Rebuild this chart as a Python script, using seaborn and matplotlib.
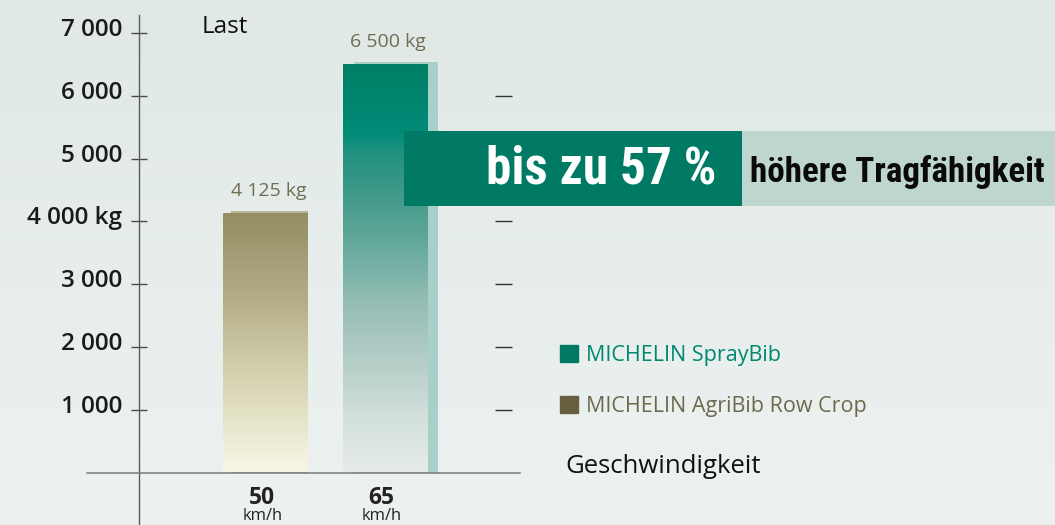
import numpy as np
import pandas as pd
import matplotlib.pyplot as plt
import matplotlib.transforms as mtransforms
from matplotlib import font_manager
from matplotlib.colors import LinearSegmentedColormap
from matplotlib.patches import Rectangle, Patch
import seaborn as sns

# Data
speeds = ['50', '65']
tyres = ['MICHELIN AgriBib Row Crop', 'MICHELIN SprayBib']
loads = [4125, 6500]
legend_order = ['MICHELIN SprayBib', 'MICHELIN AgriBib Row Crop']
y_ticks = [1000, 2000, 3000, 4000, 5000, 6000, 7000]
y_tick_labels = ['1 000', '2 000', '3 000', '4 000 kg', '5 000', '6 000', '7 000']
right_ticks = [1000, 2000, 3000, 4000, 5000, 6000]
speed_unit = 'km/h'
highlight_big = 'bis zu 57 %'
highlight_small = 'höhere Tragfähigkeit'

# Colours
square_colors = {'MICHELIN SprayBib': '#007a64', 'MICHELIN AgriBib Row Crop': '#675f3f'}
text_colors = {'MICHELIN SprayBib': '#00876f', 'MICHELIN AgriBib Row Crop': '#6d6a4c'}
bar_stops = {
    'MICHELIN SprayBib': [(0.0, '#007f64'), (0.09, '#008570'), (0.17, '#008c78'),
                          (0.22, '#229180'), (0.34, '#469b8b'), (0.46, '#6aac9f'),
                          (0.58, '#93bcb3'), (0.73, '#b5cec8'), (0.87, '#d3e0dc'),
                          (1.0, '#e6ecea')],
    'MICHELIN AgriBib Row Crop': [(0.0, '#948c62'), (0.34, '#b4ae88'), (0.57, '#cfcca8'),
                                  (0.8, '#e6e4c8'), (1.0, '#f7f7e8')],
}
shadow_style = {'MICHELIN SprayBib': ('#a8d0c9', 11, False),
                'MICHELIN AgriBib Row Crop': ('#bab69c', 8, True)}

# Layout in pixels of the 1055x525 canvas
W, H = 1055, 525
X0_PX, X_STEP = 265.5, 119.5      # first category centre, px per category
Y0_PX, Y_STEP = 472.5, 62.8       # zero line, px per 1000 kg


def dx(px):
    return (px - X0_PX) / X_STEP


def dy(py):
    return (Y0_PX - py) / Y_STEP * 1000


sns.set_style('white')
plt.rcParams['font.family'] = ['Open Sans', 'DejaVu Sans']

# pick a narrow face for the banner if one is installed
installed = {f.name for f in font_manager.fontManager.ttflist}
narrow = [f for f in ['Roboto Condensed', 'Liberation Sans Narrow', 'Open Sans Condensed',
                      'Noto Sans Display', 'DejaVu Sans'] if f in installed] or ['DejaVu Sans']

fig = plt.figure(figsize=(W / 100, H / 100), dpi=100)

# background wash
bg = fig.add_axes([0, 0, 1, 1], zorder=0)
bg_cmap = LinearSegmentedColormap.from_list('bg', ['#e0e9e6', '#edf2f1'])
bg.imshow(np.linspace(0, 1, 256).reshape(-1, 1), cmap=bg_cmap, aspect='auto',
          extent=[0, 1, 0, 1], interpolation='bicubic')
bg.axis('off')

ax = fig.add_axes([0, 0, 1, 1], zorder=1)
ax.set_facecolor('none')

df = pd.DataFrame({'speed': speeds, 'tyre': tyres, 'load': loads})
sns.barplot(data=df, x='speed', y='load', hue='tyre', order=speeds,
            hue_order=legend_order, palette=square_colors, dodge=False,
            width=0.71, legend=False, ax=ax)

# gradient fill + offset shadow for each bar
for bar in [p for c in ax.containers for p in c]:
    x0, w, h = bar.get_x(), bar.get_width(), bar.get_height()
    idx = int(round(x0 + w / 2))
    tyre = tyres[idx]
    cmap = LinearSegmentedColormap.from_list(tyre, bar_stops[tyre])
    im = ax.imshow(np.linspace(0, 1, 256).reshape(-1, 1), cmap=cmap, aspect='auto',
                   extent=[x0, x0 + w, 0, h], origin='upper', zorder=2,
                   interpolation='bicubic')
    im.set_clip_path(bar)
    bar.set_facecolor('none')
    bar.set_edgecolor('none')

    color, shift_px, trim = shadow_style[tyre]
    shift = shift_px / X_STEP
    ax.add_patch(Rectangle((x0 + shift, 0), w - shift if trim else w,
                           h + 2 / Y_STEP * 1000, color=color, lw=0, zorder=1.5))

    label = f'{int(h):,}'.replace(',', ' ') + ' kg'
    ax.annotate(label, xy=(x0 + w / 2, h), xytext=(2, 12.5), textcoords='offset points',
                ha='center', va='baseline', fontsize=14, color='#6f6d52', zorder=6)

ax.set_xlim(dx(0), dx(W))
ax.set_ylim(dy(H), dy(0))
ax.set_xlabel('')
ax.set_ylabel('')

# axes lines
for side in ['top', 'right']:
    ax.spines[side].set_visible(False)
ax.spines['left'].set_position(('data', dx(139.3)))
ax.spines['left'].set_bounds(dy(H), dy(15))
ax.spines['left'].set_color('#5a5a5a')
ax.spines['left'].set_linewidth(1.0)
ax.spines['bottom'].set_position(('data', 0))
ax.spines['bottom'].set_bounds(dx(87), dx(520))
ax.spines['bottom'].set_color('#7a7a7a')
ax.spines['bottom'].set_linewidth(1.1)
ax.tick_params(axis='x', bottom=False, labelbottom=False)

ax.set_yticks(y_ticks, labels=y_tick_labels)
ax.tick_params(axis='y', left=True, direction='inout', length=12.2, width=1.0,
               color='#4a4a4a', pad=6, labelsize=17.5, labelcolor='#1a1a1a')
shift_down = mtransforms.ScaledTranslation(0, -3 / 100, fig.dpi_scale_trans)
for t in ax.get_yticklabels():
    t.set_fontweight('semibold')
    t.set_va('baseline')
    t.set_transform(t.get_transform() + shift_down)

ax.hlines(right_ticks, dx(495), dx(512), colors='#333333', lw=1.0, zorder=1.8)

# category labels under the axis
xlab = mtransforms.blended_transform_factory(ax.transData, ax.transAxes)
for i, s in enumerate(speeds):
    ax.text(i - 4 / X_STEP, 1 - 504 / H, s, transform=xlab, ha='center', va='baseline',
            fontsize=16.4, fontweight='bold', color='#222222')
    ax.text(i - 3 / X_STEP, 1 - 520 / H, speed_unit, transform=xlab, ha='center',
            va='baseline', fontsize=11.9, color='#222222')

ax.text(202 / W, 1 - 33.3 / H, 'Last', transform=ax.transAxes, ha='left',
        va='baseline', fontsize=17.5, color='#111111')
ax.text(565 / W, 1 - 473 / H, 'Geschwindigkeit', transform=ax.transAxes, ha='left',
        va='baseline', fontsize=18.5, color='#111111')

# highlight banner
ax.add_patch(Rectangle((404 / W, 1 - 206 / H), (743 - 404) / W, 75 / H,
                       transform=ax.transAxes, color='#007a64', lw=0, zorder=4))
ax.add_patch(Rectangle((742 / W, 1 - 206 / H), (W - 742) / W, 75 / H,
                       transform=ax.transAxes, color='#bfd5cf', lw=0, zorder=4))
big = ax.text(716 / W, 1 - 183 / H, highlight_big, transform=ax.transAxes, ha='right',
              va='baseline', fontsize=37.8, fontweight='bold', family=narrow,
              fontstretch='condensed', color='white', zorder=5)
small = ax.text(750 / W, 1 - 182 / H, highlight_small, transform=ax.transAxes, ha='left',
                va='baseline', fontsize=26, fontweight='bold', family=narrow,
                fontstretch='condensed', color='#0a0a0a', zorder=5)

# shrink the banner texts to the widths they take in the original
fig.canvas.draw()
renderer = fig.canvas.get_renderer()
for txt, target in [(big, 716 - 486), (small, 1045 - 750)]:
    width = txt.get_window_extent(renderer).width
    if width > target:
        txt.set_fontsize(txt.get_fontsize() * target / width)

# legend
handles = [Patch(color=square_colors[t], label=t) for t in legend_order]
leg = ax.legend(handles=handles, loc='center left', bbox_to_anchor=(560 / W, 1 - 381 / H),
                frameon=False, borderpad=0, borderaxespad=0, handlelength=0.84,
                handleheight=0.84, handletextpad=0.37, labelspacing=1.42, fontsize=15.5)
for txt, t in zip(leg.get_texts(), legend_order):
    txt.set_color(text_colors[t])

fig.savefig('out.png', dpi=100)
